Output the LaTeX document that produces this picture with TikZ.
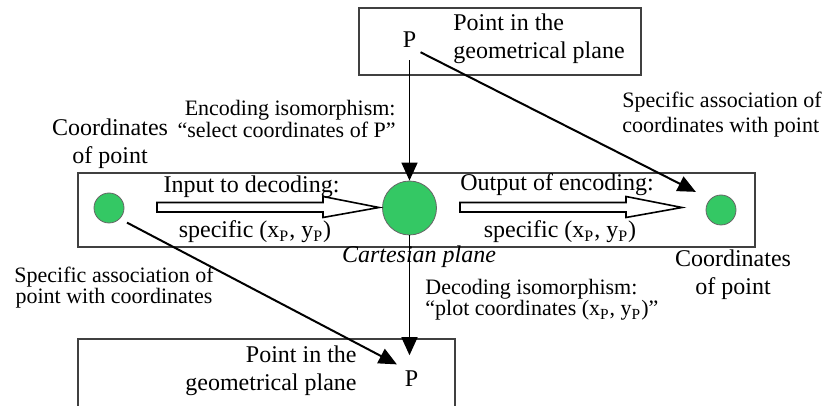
\documentclass[tikz,border=0pt]{standalone}
\usepackage{fontspec}
\setmainfont{Liberation Serif}
\usetikzlibrary{arrows.meta}
\definecolor{dotgreen}{RGB}{52,200,100}

\begin{document}
\begin{tikzpicture}[x=0.5pt,y=-0.5pt,
  panel/.style={draw=black!75,line width=0.9pt,inner sep=0pt},
  dot/.style={circle,draw=black!60,fill=dotgreen,inner sep=0pt},
  lbl/.style={font=\fontsize{12}{14}\selectfont,inner sep=0pt},
  note/.style={font=\fontsize{11}{11}\selectfont,inner sep=0pt},
  conn/.style={-{Triangle[length=9pt,width=8pt]},line width=0.8pt},
  fatarrow/.style={draw=black,line width=0.8pt,fill=white}]
\clip (0,0) rectangle (825,406);
% boxes
\node[panel,minimum width=141pt,minimum height=33.5pt] (topbox) at (500,41.5) {};
\node[panel,minimum width=338.5pt,minimum height=37pt] (midbox) at (416.5,210) {};
\node[panel,minimum width=188.5pt,minimum height=45pt] (botbox) at (266.5,384) {};
% points in the plane
\node[lbl,inner sep=2pt] (Ptop) at (409.5,40) {P};
\node[lbl,inner sep=2pt] (Pbot) at (411.5,378.5) {P};
\node[lbl,anchor=west,align=left] (toplbl) at (453,39) {Point in the\\geometrical plane};
\node[lbl,anchor=east,align=right] (botlbl) at (357,371) {Point in the\\geometrical plane};
% coordinates (green dots)
\node[dot,minimum size=15pt] (lcirc) at (109,208) {};
\node[dot,minimum size=27pt] (cplane) at (409.5,208) {};
\node[dot,minimum size=15pt] (rcirc) at (721,210) {};
\node[lbl,align=center] (lcoord) at (110,144) {Coordinates\\of point};
\node[lbl,align=center] (rcoord) at (733,275) {Coordinates\\of point};
\node[lbl] (cartlbl) at (419,257) {\itshape Cartesian plane};
% block arrows
\foreach \s in {157,460}
  \draw[fatarrow] (\s,202.5) -- (\s+166,202.5) -- (\s+166,196.5) -- (\s+222,207.5)
    -- (\s+166,217.5) -- (\s+166,212) -- (\s,212) -- cycle;
\node[lbl] (inlbl) at (251.5,187) {Input to decoding:};
\node[lbl] (inval) at (255,232) {specific (x\textsubscript{P}, y\textsubscript{P})};
\node[lbl] (outlbl) at (557,185) {Output of encoding:};
\node[lbl] (outval) at (560,232) {specific (x\textsubscript{P}, y\textsubscript{P})};
% notes
\node[note,anchor=east,align=right] (enclbl) at (396,119) {Encoding isomorphism:\\``select coordinates of P''};
\node[note,font=\fontsize{11}{12.5}\selectfont,anchor=west,align=left] (assoc1) at (622,114.5) {Specific association of\\coordinates with point};
\node[note,font=\fontsize{11}{10.5}\selectfont,align=center] (assoc2) at (114,288) {Specific association of\\point with coordinates};
\node[note,font=\fontsize{11}{10.5}\selectfont,anchor=west,align=left] (declbl) at (425,300) {Decoding isomorphism:\\``plot coordinates (x\textsubscript{P}, y\textsubscript{P})''};
% connectors
\draw[conn,shorten <=4pt] (Ptop.south) -- (cplane.north);
\draw[conn,line width=1pt,shorten >=8pt] (Ptop.south east) -- (rcirc.north west);
\draw[conn,line width=1pt,shorten <=4pt,shorten >=2pt] (lcirc.south east) -- (Pbot.north west);
\draw[conn,shorten >=5.5pt] (cplane.south) -- (cplane.south |- Pbot.north);
\end{tikzpicture}
\end{document}
